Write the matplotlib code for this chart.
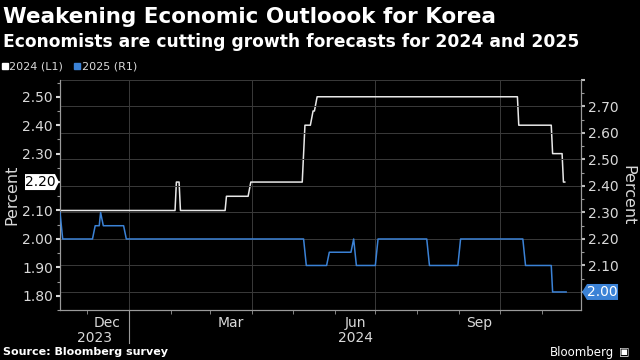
import matplotlib
matplotlib.use('Agg')
import matplotlib.pyplot as plt
import matplotlib.dates as mdates
from matplotlib.lines import Line2D
from matplotlib.patches import Polygon
import pandas as pd

# consensus forecasts (step changes)
dates_2024 = ['2023-11-11', '2024-02-04', '2024-02-05', '2024-02-07', '2024-02-08',
              '2024-03-12', '2024-03-13', '2024-03-29', '2024-03-31', '2024-05-08',
              '2024-05-10', '2024-05-14', '2024-05-16', '2024-05-17', '2024-05-19',
              '2024-10-14', '2024-10-15', '2024-11-08', '2024-11-09', '2024-11-16',
              '2024-11-17', '2024-11-18']
vals_2024 = [2.10, 2.10, 2.20, 2.20, 2.10,
             2.10, 2.15, 2.15, 2.20, 2.20,
             2.40, 2.40, 2.45, 2.45, 2.50,
             2.50, 2.40, 2.40, 2.30, 2.30,
             2.20, 2.20]

dates_2025 = ['2023-11-11', '2023-11-13', '2023-12-05', '2023-12-07', '2023-12-10',
              '2023-12-11', '2023-12-13', '2023-12-28', '2023-12-30', '2024-05-09',
              '2024-05-11', '2024-05-26', '2024-05-28', '2024-06-13', '2024-06-15',
              '2024-06-17', '2024-07-01', '2024-07-03', '2024-08-08', '2024-08-10',
              '2024-08-31', '2024-09-02', '2024-10-18', '2024-10-20', '2024-11-08',
              '2024-11-09', '2024-11-19']
vals_2025 = [2.30, 2.20, 2.20, 2.25, 2.25,
             2.30, 2.25, 2.25, 2.20, 2.20,
             2.10, 2.10, 2.15, 2.15, 2.20,
             2.10, 2.10, 2.20, 2.20, 2.10,
             2.10, 2.20, 2.20, 2.10, 2.10,
             2.00, 2.00]

left_ticks = [1.80, 1.90, 2.00, 2.10, 2.20, 2.30, 2.40, 2.50]
right_ticks = [2.00, 2.10, 2.20, 2.30, 2.40, 2.50, 2.60, 2.70, 2.80]
month_labels = ['Dec', 'Mar', 'Jun', 'Sep']
month_label_dates = ['2023-12-16', '2024-03-16', '2024-06-16', '2024-09-16']

WHITE = '#e8e8e8'
BLUE = '#3b82d6'
GRID = '#3a3a3a'
TXT = '#d9d9d9'


def main():
    d24 = pd.to_datetime(dates_2024)
    d25 = pd.to_datetime(dates_2025)

    fig = plt.figure(figsize=(6.4, 3.6), dpi=100, facecolor='black')
    ax = fig.add_axes([0.09375, 0.1389, 0.8141, 0.6389])
    ax.set_facecolor('black')
    ax2 = ax.twinx()

    ax.plot(d24, vals_2024, color=WHITE, lw=1.1, zorder=3)
    ax2.plot(d25, vals_2025, color=BLUE, lw=1.1, zorder=3)

    ax.set_xlim(pd.Timestamp('2023-11-11'), pd.Timestamp('2024-11-30'))
    ax.set_ylim(1.758, 2.559)
    ax2.set_ylim(1.932, 2.80)

    ax.set_yticks(left_ticks)
    ax.set_yticklabels(['' if abs(v - vals_2024[-1]) < 1e-9 else '%.2f' % v for v in left_ticks])
    ax.set_yticks([v + 0.05 for v in left_ticks[:-1]] + [1.75, 2.55], minor=True)
    ax2.set_yticks(right_ticks)
    ax2.set_yticklabels(['' if (abs(v - vals_2025[-1]) < 1e-9 or v > 2.75) else '%.2f' % v
                         for v in right_ticks])
    ax2.set_yticks([v + 0.05 for v in right_ticks[:-1]], minor=True)

    ax2.yaxis.grid(True, color=GRID, lw=0.7)
    ax.set_axisbelow(True)

    # months
    ax.xaxis.set_minor_locator(mdates.MonthLocator())
    ax.set_xticks(pd.to_datetime(month_label_dates))
    ax.set_xticklabels(month_labels)
    ax.tick_params(axis='x', which='major', length=0, pad=4, labelsize=10, colors=TXT)
    ax.tick_params(axis='x', which='minor', length=3, color='#999999')
    for q in pd.to_datetime(['2024-01-01', '2024-04-01', '2024-07-01', '2024-10-01']):
        ax.axvline(q, color=GRID, lw=0.7, zorder=0)

    for a in (ax, ax2):
        a.tick_params(axis='y', which='major', length=3, width=1.5, colors=TXT, labelsize=10, pad=2)
        a.tick_params(axis='y', which='minor', length=2, width=0.8, color='#999999')
        for s in a.spines.values():
            s.set_color('#9a9a9a')
            s.set_linewidth(0.8)
        a.spines['top'].set_visible(False)
    ax2.tick_params(axis='y', which='major', color='#bbbbbb')

    # year labels and separator
    xl = ax.get_xlim()
    jan = mdates.date2num(pd.Timestamp('2024-01-01'))
    trans = ax.get_xaxis_transform()
    ax.plot([jan, jan], [0, -0.145], transform=trans, color='#9a9a9a', lw=0.8, clip_on=False)
    ax.text((xl[0] + jan) / 2, -0.122, '2023', transform=trans, ha='center', va='center',
            color=TXT, fontsize=10)
    ax.text((jan + xl[1]) / 2, -0.122, '2024', transform=trans, ha='center', va='center',
            color=TXT, fontsize=10)

    ax.set_ylabel('Percent', color=TXT, fontsize=11.5, labelpad=2)
    ax2.set_ylabel('Percent', color=TXT, fontsize=11.5, rotation=-90, labelpad=12)

    # last value tags
    fig.canvas.draw()
    x0, y0 = ax.transData.transform((mdates.date2num(d24[0]), vals_2024[-1]))
    x0 = ax.transAxes.transform((0, 0))[0]
    tag = Polygon([(x0 - 35, y0 - 8), (x0 - 5, y0 - 8), (x0 - 1, y0), (x0 - 5, y0 + 8),
                   (x0 - 35, y0 + 8)], closed=True, transform=None, facecolor='white',
                  edgecolor='none', clip_on=False)
    fig.patches.append(tag)
    fig.text((x0 - 20) / 640, y0 / 360, '%.2f' % vals_2024[-1], ha='center', va='center',
             color='black', fontsize=10)

    x1 = ax.transAxes.transform((1, 0))[0]
    _, y1 = ax2.transData.transform((mdates.date2num(d25[0]), vals_2025[-1]))
    tag2 = Polygon([(x1 + 1, y1), (x1 + 6, y1 - 8), (x1 + 37, y1 - 8), (x1 + 37, y1 + 8),
                    (x1 + 6, y1 + 8)], closed=True, transform=None, facecolor=BLUE,
                   edgecolor='none', clip_on=False)
    fig.patches.append(tag2)
    fig.text((x1 + 21) / 640, y1 / 360, '%.2f' % vals_2025[-1], ha='center', va='center',
             color='white', fontsize=10)

    # titles
    fig.text(0.004, 0.952, 'Weakening Economic Outloook for Korea', color='white',
             fontsize=15.5, fontweight='bold', ha='left', va='center')
    fig.text(0.004, 0.884, 'Economists are cutting growth forecasts for 2024 and 2025',
             color='white', fontsize=12.3, fontweight='bold', ha='left', va='center')

    handles = [Line2D([], [], marker='s', ls='', color='white', markersize=4),
               Line2D([], [], marker='s', ls='', color=BLUE, markersize=4)]
    leg = fig.legend(handles, ['2024 (L1)', '2025 (R1)'], loc='center left',
                     bbox_to_anchor=(-0.005, 0.815), ncol=2, frameon=False, fontsize=8,
                     handlelength=0.6, handletextpad=0.1, columnspacing=1.0,
                     borderaxespad=0)
    for t in leg.get_texts():
        t.set_color(TXT)

    fig.text(0.004, 0.022, 'Source: Bloomberg survey', color='white', fontsize=8,
             fontweight='bold', ha='left', va='center')
    fig.text(0.96, 0.022, 'Bloomberg', color='white', fontsize=8.5, ha='right', va='center')
    fig.text(0.975, 0.022, '\u25a3', color='white', fontsize=8, ha='center', va='center')

    fig.savefig('out.png', dpi=100, facecolor='black')


if __name__ == '__main__':
    main()
